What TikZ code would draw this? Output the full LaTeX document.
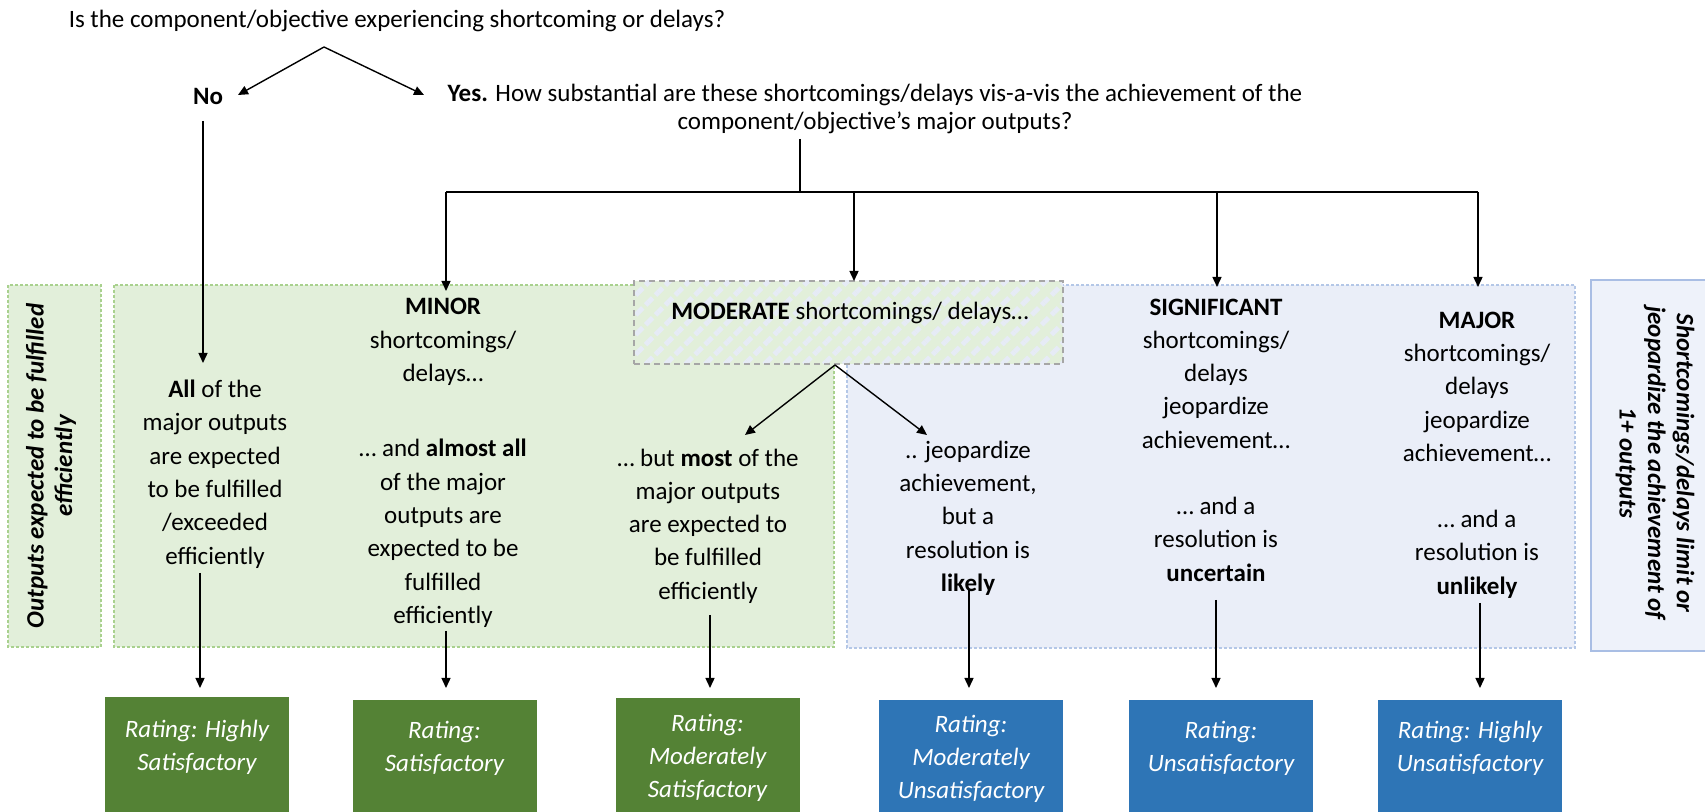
\documentclass[tikz,border=0pt]{standalone}
\usepackage{fontspec}
\setmainfont{Carlito}
\usetikzlibrary{arrows.meta,patterns.meta}
\definecolor{gfill}{HTML}{E2EFDA}
\definecolor{gline}{HTML}{A9D18E}
\definecolor{bfill}{HTML}{EAEEF8}
\definecolor{bline}{HTML}{B4C7E7}
\definecolor{rfill}{HTML}{EEF2FA}
\definecolor{rline}{HTML}{A9BEE4}
\definecolor{rgreen}{HTML}{548235}
\definecolor{rblue}{HTML}{2E75B6}
\definecolor{modline}{HTML}{A6A6A6}
\definecolor{stripe}{HTML}{E6EBF6}
\begin{document}
\begin{tikzpicture}[x=0.5pt,y=-0.5pt,
  every node/.style={font=\fontsize{12.5pt}{16.65pt}\selectfont, inner sep=2pt},
  txt/.style={align=center},
  arr/.style={-{Triangle[length=5pt,width=4.5pt]}, line width=0.7pt},
  conn/.style={line width=0.7pt},
  zone/.style={dash pattern=on 1.5pt off 1pt, line width=0.6pt},
  rbox/.style={anchor=north, minimum width=92pt, minimum height=66pt, inner sep=0pt},
  rtext/.style={align=center, text=white, font=\itshape\fontsize{12.5pt}{16.5pt}\selectfont},
  sidetext/.style={align=center, font=\bfseries\itshape\fontsize{12.5pt}{14.3pt}\selectfont}
]
\useasboundingbox (0,0) rectangle (1705,812);

% background zones
\draw[zone, draw=gline, fill=gfill] (8,285) rectangle (101,647);
\draw[zone, draw=gline, fill=gfill] (114,285) rectangle (834,647);
\draw[zone, draw=bline, fill=bfill] (847,285) rectangle (1575,648);
\draw[draw=rline, fill=rfill, line width=0.75pt] (1591,280) rectangle (1730,651);

\node[sidetext, rotate=90] (lefttxt) at (51,466) {Outputs expected to be fulfilled\\efficiently};
\node[sidetext, rotate=-90] (righttxt) at (1655,463) {Shortcomings/delays limit or\\jeopardize the achievement of\\1+ outputs};

% moderate box
\node[preaction={fill=gfill}, pattern={Lines[angle=45,distance=7pt,line width=2.5pt]}, pattern color=stripe,
      draw=modline, dash pattern=on 3pt off 2pt, line width=1.1pt,
      minimum width=214.5pt, minimum height=41.5pt, inner sep=0pt] (mod) at (848.5,322.5) {};
\node (modtxt) at (850,313) {\textbf{MODERATE} shortcomings/ delays…};

% top texts
\node (title) at (397,21) {Is the component/objective experiencing shortcoming or delays?};
\node (no) at (208,96) {\textbf{No}};
\node[txt, font=\fontsize{12.5pt}{14pt}\selectfont] (yes) at (875,109) {\textbf{Yes.} How substantial are these shortcomings/delays vis-a-vis the achievement of the\\component/objective’s major outputs?};

% columns
\node[txt] (all) at (215,474) {\textbf{All} of the\\major outputs\\are expected\\to be fulfilled\\/exceeded\\efficiently};
\node[txt] (minor) at (443,463) {\textbf{MINOR}\\shortcomings/\\delays…\\[21pt]… and \textbf{almost all}\\of the major\\outputs are\\expected to be\\fulfilled\\efficiently};
\node[txt] (most) at (708,526) {… but \textbf{most} of the\\major outputs\\are expected to\\be fulfilled\\efficiently};
\node[txt] (jeop) at (968,518) {.. jeopardize\\achievement,\\but a\\resolution is\\\textbf{likely}};
\node[txt] (sig) at (1216,440) {\textbf{SIGNIFICANT}\\shortcomings/\\delays\\jeopardize\\achievement…\\[16.5pt]… and a\\resolution is\\\textbf{uncertain}};
\node[txt] (maj) at (1477,455) {\textbf{MAJOR}\\shortcomings/\\delays\\jeopardize\\achievement…\\[16.5pt]… and a\\resolution is\\\textbf{unlikely}};

% rating boxes
\node[rbox, fill=rgreen] (r1) at (197,697) {};
\node[rbox, fill=rgreen] (r2) at (444.5,700) {};
\node[rbox, fill=rgreen] (r3) at (707.5,698) {};
\node[rbox, fill=rblue] (r4) at (971,700) {};
\node[rbox, fill=rblue] (r5) at (1221,700) {};
\node[rbox, fill=rblue] (r6) at (1470,700) {};
\node[rtext] (r1t) at (197,747) {Rating: Highly\\Satisfactory};
\node[rtext] (r2t) at (444.5,748) {Rating:\\Satisfactory};
\node[rtext] (r3t) at (707.5,758) {Rating:\\Moderately\\Satisfactory};
\node[rtext] (r4t) at (971,759) {Rating:\\Moderately\\Unsatisfactory};
\node[rtext] (r5t) at (1221,748) {Rating:\\Unsatisfactory};
\node[rtext] (r6t) at (1470,748) {Rating: Highly\\Unsatisfactory};

% connectors at top
\coordinate (apex) at (324,47);
\coordinate (notip) at (238,95);
\coordinate (yestip) at (424,95);
\draw[arr] (apex) -- (notip);
\draw[arr] (apex) -- (yestip);
\coordinate (nostart) at (203,121);
\coordinate (noend) at (203,363);
\draw[arr] (nostart) -- (noend);

\coordinate (ystart) at (800,139);
\coordinate (bus) at (800,192);
\draw[conn] (ystart) -- (bus);
\coordinate (busL) at (446,192);
\coordinate (busR) at (1478,192);
\draw[conn] (busL) -- (busR);
\coordinate (minortip) at (446,291);
\coordinate (modtip) at (854,281);
\coordinate (sigtip) at (1217,287);
\coordinate (majtip) at (1478,287);
\draw[arr] (busL) -- (minortip);
\draw[arr] (modtip |- bus) -- (modtip);
\draw[arr] (sigtip |- bus) -- (sigtip);
\draw[arr] (busR) -- (majtip);

% moderate split
\coordinate (split) at (835,365);
\coordinate (mostip) at (745,435);
\coordinate (jeoptip) at (927,435);
\draw[arr] (split) -- (mostip);
\draw[arr] (split) -- (jeoptip);

% down to ratings
\coordinate (d1) at (200,573);
\coordinate (d2) at (446,631);
\coordinate (d3) at (710,615);
\coordinate (d4) at (969,590);
\coordinate (d5) at (1216,600);
\coordinate (d6) at (1480,603);
\draw[arr] (d1) -- ([yshift=4.5pt]r1.north -| d1);
\draw[arr] (d2) -- ([yshift=6pt]r2.north -| d2);
\draw[arr] (d3) -- ([yshift=5pt]r3.north -| d3);
\draw[arr] (d4) -- ([yshift=6pt]r4.north -| d4);
\draw[arr] (d5) -- ([yshift=6pt]r5.north -| d5);
\draw[arr] (d6) -- ([yshift=6pt]r6.north -| d6);
\end{tikzpicture}
\end{document}
